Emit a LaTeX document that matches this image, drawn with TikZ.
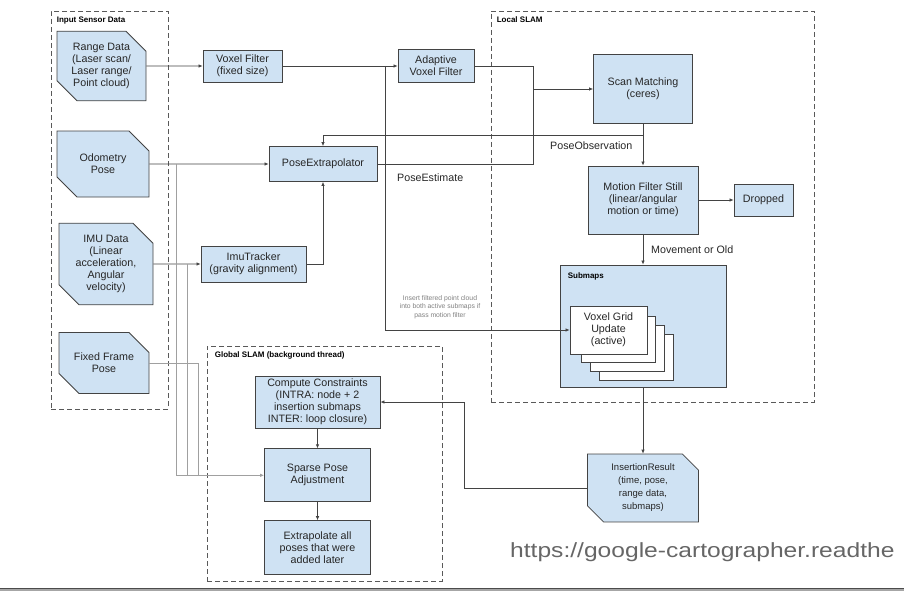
\documentclass[tikz,border=0pt]{standalone}
\usepackage{fontspec}
\setmainfont{Liberation Sans}
\newfontfamily\urlfont[FakeStretch=1.2]{Liberation Sans}
\usetikzlibrary{positioning,arrows.meta,shapes.misc,calc}

\definecolor{boxblue}{HTML}{CFE2F3}
\definecolor{edgegray}{HTML}{434343}
\definecolor{framegray}{HTML}{595959}
\definecolor{busgray}{HTML}{A0A0A0}
\definecolor{urlgray}{HTML}{666666}

\begin{document}
\begin{tikzpicture}[
    x=1pt, y=-1pt,
    node distance=20pt,
    font=\fontsize{10.7}{12}\selectfont,
    process/.style={rectangle, draw=edgegray, fill=boxblue, text=black!85, align=center, inner sep=2pt, line width=0.8pt},
    io/.style={
        chamfered rectangle,% cut corners top right and bottom left
        chamfered rectangle corners={north east,south west},
        chamfered rectangle sep=10pt,
        draw=edgegray, fill=boxblue, text=black!85, align=center,
        inner sep=2pt, line width=0.8pt},
    group/.style={rectangle, draw=framegray, dash pattern=on 5pt off 3pt, line width=0.8pt, inner sep=0pt},
    title/.style={font=\fontsize{8}{9}\selectfont\bfseries, text=black, anchor=north west, inner sep=0pt, xshift=6pt, yshift=-6pt},
    note/.style={text=black!85, inner sep=1pt},
    line/.style={draw=edgegray, line width=0.7pt},
    arrow/.style={line, -{Latex[length=4pt,width=3.5pt]}},
    bus/.style={draw=busgray, line width=0.8pt}
]
    \useasboundingbox (0,0) rectangle (904,591);

    % Frames
    \node[group, minimum width=117pt, minimum height=398pt, label={[title]north west:Input Sensor Data}] (input) at (109.5,210) {};
    \node[group, minimum width=323pt, minimum height=391pt, label={[title]north west:Local SLAM}] (local) at (652.5,206.5) {};
    \node[group, minimum width=235pt, minimum height=235pt, label={[title, xshift=2pt]north west:Global SLAM (background thread)}] (global) at (324.5,463.5) {};

    % Sensor data
    \node[io, minimum width=89pt, minimum height=62pt] (range) at (101.5,66) {Range Data\\(Laser scan/\\Laser range/\\Point cloud)};
    \node[io, minimum width=92pt, minimum height=66pt] (odom) at (103,164) {Odometry\\Pose};
    \node[io, minimum width=94pt, minimum height=71pt] (imu) at (106,264) {IMU Data\\(Linear\\acceleration,\\Angular\\velocity)};
    \node[io, minimum width=90pt, minimum height=61pt] (fixed) at (104,363) {Fixed Frame\\Pose};

    % Filters and extrapolator
    \node[process, minimum width=79pt, minimum height=32pt] (voxel) at (242.5,66) {Voxel Filter\\(fixed size)};
    \node[process, minimum width=76pt, minimum height=33pt] (adaptive) at (436,66) {Adaptive\\Voxel Filter};
    \node[process, minimum width=108pt, minimum height=35pt] (poseext) at (323,164) {PoseExtrapolator};
    \node[process, minimum width=105pt, minimum height=36pt] (imutracker) at (253.5,264) {ImuTracker\\(gravity alignment)};

    % Local SLAM
    \node[process, minimum width=99pt, minimum height=69pt] (scan) at (643,89) {Scan Matching\\(ceres)};
    \node[process, minimum width=110pt, minimum height=68pt] (motion) at (643,200) {Motion Filter Still\\(linear/angular\\motion or time)};
    \node[process, minimum width=59pt, minimum height=32pt] (dropped) at (763.5,200) {Dropped};
    \node[process, minimum width=166pt, minimum height=122pt, label={[title, xshift=2pt, yshift=-2pt]north west:Submaps}] (submaps) at (643,326) {};
    \coordinate (vgcorner) at (647,354);
    \foreach \i in {3,2,1}
        \node[process, fill=white, minimum width=74pt, minimum height=46pt, anchor=south east] (vgrid\i) at ($(vgcorner)+(9*\i,9*\i)$) {};
    \node[process, fill=white, minimum width=77pt, minimum height=48pt] (vgrid) at (608.5,330) {Voxel Grid\\Update\\(active)};
    \node[io, chamfered rectangle sep=8pt, minimum width=111pt, minimum height=64pt, font=\fontsize{9.5}{13}\selectfont] (insertion) at (643,488) {InsertionResult\\(time, pose,\\range data,\\submaps)};

    % Global SLAM
    \node[process, minimum width=125pt, minimum height=52pt] (compute) at (317.5,402) {Compute Constraints\\(INTRA: node + 2\\insertion submaps\\INTER: loop closure)};
    \node[process, minimum width=106pt, minimum height=53pt, below=20pt of compute] (sparse) {Sparse Pose\\Adjustment};
    \node[process, minimum width=106pt, minimum height=54pt, below=18pt of sparse] (extrap) {Extrapolate all\\poses that were\\added later};

    % Labels
    \node[note, anchor=west] (obslabel) at (549,146) {PoseObservation};
    \node[note, anchor=west] (estlabel) at (396,178) {PoseEstimate};
    \node[note, anchor=west] (movelabel) at (650,250) {Movement or Old};
    \node[font=\fontsize{6.8}{8.3}\selectfont, text=black!50, align=center] (insertnote) at (440,307) {Insert filtered point cloud\\into both active submaps if\\pass motion filter};
    \node[font=\urlfont\fontsize{20.5}{24}\selectfont, text=urlgray, anchor=base west, inner sep=0pt] (url) at (510,557) {https://google-cartographer.readthe};

    % Connections
    \coordinate (split) at (385,66);
    \coordinate (merge) at (533,89);
    \coordinate (obs) at (643,135);
    \draw[arrow] (range) -- (voxel);
    \draw[arrow] (voxel) -- (adaptive);
    \draw[arrow] (split) |- (vgrid.west);
    \draw[line] (adaptive.east) -| (merge);
    \draw[line] (poseext.east) -| (merge);
    \draw[arrow] (merge) -- (scan.west);
    \draw[arrow] (scan) -- (motion);
    \draw[arrow] (obs) -| (poseext.north);
    \draw[arrow] (odom) -- (poseext);
    \draw[arrow] (imu) -- (imutracker);
    \draw[arrow] (imutracker.east) -| (poseext.south);
    \draw[arrow] (motion) -- (dropped);
    \draw[arrow] (motion) -- (submaps);
    \draw[arrow] (submaps) -- (insertion);
    \draw[arrow] (insertion.west) -- ++(-123,0) |- (compute.east);
    \draw[arrow] (compute) -- (sparse);
    \draw[arrow] (sparse) -- (extrap);

    % Sensor bus into Sparse Pose Adjustment
    \coordinate (tapodom) at (176,164);
    \coordinate (tapimu) at (187,264);
    \coordinate (tapfixed) at (198,363);
    \draw[bus] (tapodom) -- (tapodom |- sparse.west);
    \draw[bus] (tapimu) -- (tapimu |- sparse.west);
    \draw[bus] (fixed.east) -- (tapfixed) -- (tapfixed |- sparse.west);
    \draw[bus, -{Latex[length=4pt,width=3.5pt]}] (tapodom |- sparse.west) -- (sparse.west);

    % Bottom rule
    \fill[black!35] (0,588) rectangle (904,591);
    \draw[black!70, line width=1pt] (0,588.5) -- (904,588.5);
\end{tikzpicture}
\end{document}
